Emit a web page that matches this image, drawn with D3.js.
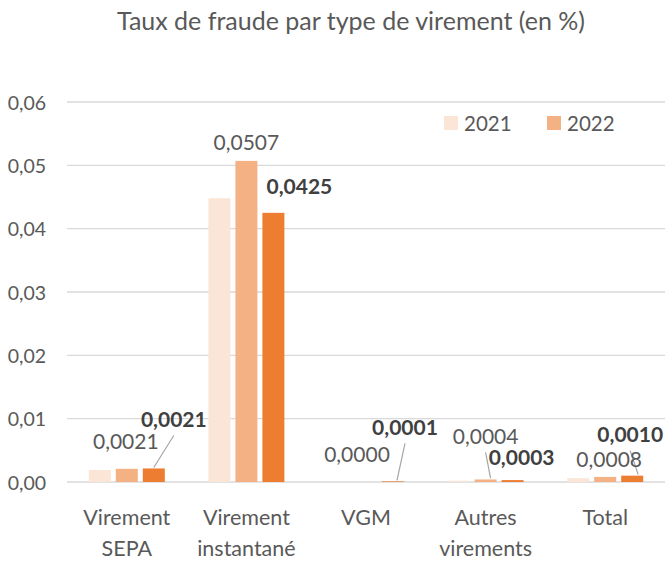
<!DOCTYPE html>
<html>
<head>
<meta charset="utf-8">
<script src="https://cdn.jsdelivr.net/npm/d3@7"></script>
<style>
  body { margin: 0; background: #fff; font-family: Lato, sans-serif; }
  text { fill: #595959; }
</style>
</head>
<body>
<script>
// data
const categories = [["Virement", "SEPA"], ["Virement", "instantané"], ["VGM"], ["Autres", "virements"], ["Total"]];
const years = ["2021", "2022", "2023"];
const rate2021 = [0.0019, 0.0448, 0.0000, 0.0002, 0.0006];
const rate2022 = [0.00208, 0.0507, 0.0000, 0.0004, 0.0008];
const rate2023 = [0.00214, 0.0425, 0.0001, 0.0003, 0.0010];
const yTicks = [0, 0.01, 0.02, 0.03, 0.04, 0.05, 0.06];
const legendYears = ["2021", "2022"];

const series = [rate2021, rate2022, rate2023];
const colors = ["#FBE5D6", "#F4B183", "#ED7D31"];

// label placement (pixel nudges from bar top-centre), only series with labels shown
const labelNudge = {
  "1-0": { dx: -1, dy: -28 },
  "2-0": { dx: 20, dy: -50, leader: 0 },
  "1-1": { dx: 0, dy: -19 },
  "2-1": { dx: 26, dy: -27 },
  "1-2": { dx: -9, dy: -29 },
  "2-2": { dx: 12, dy: -55, leader: 4 },
  "1-3": { dx: 0, dy: -44, leader: 5 },
  "2-3": { dx: 9, dy: -24 },
  "1-4": { dx: 4, dy: -18 },
  "2-4": { dx: -2, dy: -42, leader: 6 }
};

const W = 665, H = 563;
const svg = d3.select("body").append("svg").attr("width", W).attr("height", H);

const x0 = d3.scaleBand().domain(d3.range(categories.length)).range([67, 665]).padding(0);
const x1 = d3.scaleBand().domain(d3.range(years.length)).range([0, 76]).paddingInner(0.185);
const y = d3.scaleLinear().domain([0, 0.06]).range([482, 102]);
const fmt = v => d3.format(".4f")(v).replace(".", ",");

svg.append("text")
  .attr("x", 351).attr("y", 20)
  .attr("text-anchor", "middle").attr("dominant-baseline", "central")
  .style("font-size", "25px")
  .text("Taux de fraude par type de virement (en %)");

// grid
svg.append("g").selectAll("line").data(yTicks).join("line")
  .attr("x1", 67).attr("x2", 665)
  .attr("y1", d => y(d)).attr("y2", d => y(d))
  .attr("stroke", "#D9D9D9").attr("stroke-width", 1.3);

svg.append("g").selectAll("text").data(yTicks).join("text")
  .attr("x", 46).attr("y", d => y(d))
  .attr("text-anchor", "end").attr("dominant-baseline", "central")
  .style("font-size", "19.5px")
  .text(d => d3.format(".2f")(d).replace(".", ","));

// bars
const groups = svg.append("g").selectAll("g").data(categories).join("g")
  .attr("transform", (d, i) => `translate(${x0(i) + x0.bandwidth() / 2 - 38},0)`);

groups.selectAll("rect").data((d, i) => series.map((s, k) => ({ k, i, v: s[i] }))).join("rect")
  .attr("x", d => x1(d.k)).attr("width", x1.bandwidth())
  .attr("y", d => y(d.v)).attr("height", d => y(0) - y(d.v))
  .attr("fill", d => colors[d.k]);

// data labels
const labels = [];
series.forEach((s, k) => s.forEach((v, i) => {
  const n = labelNudge[k + "-" + i];
  if (!n) return;
  const bx = x0(i) + x0.bandwidth() / 2 - 38 + x1(k) + x1.bandwidth() / 2;
  labels.push({ k, i, v, bx, by: y(v), n });
}));

svg.append("g").selectAll("line").data(labels.filter(d => d.n.leader !== undefined)).join("line")
  .attr("x1", d => d.bx + d.n.dx).attr("y1", d => d.by + d.n.dy + 17)
  .attr("x2", d => d.bx + d.n.leader).attr("y2", d => d.by - 1)
  .attr("stroke", "#A6A6A6").attr("stroke-width", 1.2);

svg.append("g").selectAll("text").data(labels).join("text")
  .attr("x", d => d.bx + d.n.dx).attr("y", d => d.by + d.n.dy)
  .attr("text-anchor", "middle").attr("dominant-baseline", "central")
  .style("font-size", "21px")
  .style("font-weight", d => d.k === 2 ? "bold" : "normal")
  .style("fill", d => d.k === 2 ? "#404040" : "#595959")
  .text(d => fmt(d.v));

// category labels
svg.append("g").selectAll("text").data(categories).join("text")
  .attr("x", (d, i) => x0(i) + x0.bandwidth() / 2)
  .attr("y", 517)
  .attr("text-anchor", "middle").attr("dominant-baseline", "central")
  .style("font-size", "21.5px")
  .selectAll("tspan").data(d => d).join("tspan")
  .attr("x", function () { return this.parentNode.getAttribute("x"); })
  .attr("dy", (d, j) => j ? 31 : 0)
  .text(d => d);

// legend
const leg = svg.append("g").selectAll("g").data(legendYears).join("g")
  .attr("transform", (d, j) => `translate(${444 + j * 103},116)`);
leg.append("rect").attr("width", 14).attr("height", 14).attr("fill", (d, j) => colors[j]);
leg.append("text").attr("x", 20).attr("y", 7).attr("dominant-baseline", "central")
  .style("font-size", "20.5px").text(d => d);
</script>
</body>
</html>
